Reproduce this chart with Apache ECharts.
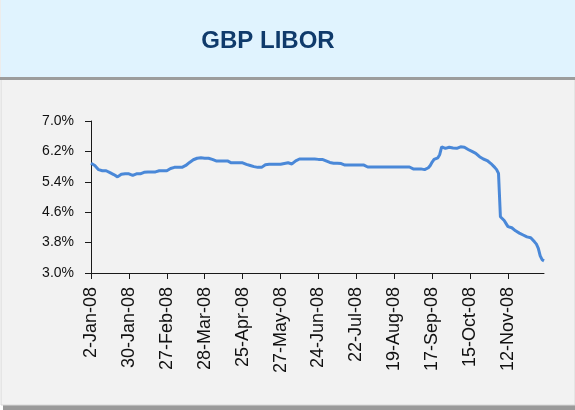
<!DOCTYPE html>
<html>
<head>
<meta charset="utf-8">
<script src="https://cdn.jsdelivr.net/npm/echarts@6/dist/echarts.min.js"></script>
<style>
  html, body { margin: 0; padding: 0; background: #ffffff; }
  #chart { width: 575px; height: 410px; }
</style>
</head>
<body>
<div id="chart"></div>
<script>
// UK business days, 2-Jan-08 .. 9-Dec-08
var startDay = '2008-01-02';
var endDay = '2008-12-09';
var bankHolidays = ['2008-03-21', '2008-03-24', '2008-05-05', '2008-05-26', '2008-08-25'];
var monthNames = ['Jan', 'Feb', 'Mar', 'Apr', 'May', 'Jun', 'Jul', 'Aug', 'Sep', 'Oct', 'Nov', 'Dec'];
var yTicks = [3.0, 3.8, 4.6, 5.4, 6.2, 7.0];

// rate in %, one value per business day
var libor = [
    5.89, 5.86, 5.83, 5.78, 5.72, 5.68, 5.69, 5.69, 5.69, 5.67,
    5.64, 5.61, 5.59, 5.56, 5.53, 5.49, 5.60, 5.61, 5.61, 5.61,
    5.61, 5.59, 5.57, 5.60, 5.61, 5.61, 5.61, 5.61, 5.65, 5.65,
    5.66, 5.66, 5.66, 5.66, 5.66, 5.69, 5.69, 5.69, 5.69, 5.69,
    5.69, 5.74, 5.75, 5.77, 5.78, 5.78, 5.78, 5.78, 5.78, 5.78,
    5.83, 5.86, 5.91, 5.96, 5.98, 6.00, 6.02, 6.02, 6.03, 6.03,
    6.02, 6.02, 6.02, 6.02, 5.99, 5.97, 5.95, 5.95, 5.95, 5.95,
    5.95, 5.95, 5.95, 5.95, 5.90, 5.90, 5.90, 5.90, 5.90, 5.90,
    5.90, 5.88, 5.86, 5.85, 5.83, 5.82, 5.80, 5.78, 5.78, 5.78,
    5.78, 5.78, 5.85, 5.86, 5.86, 5.86, 5.86, 5.86, 5.86, 5.86,
    5.86, 5.86, 5.88, 5.90, 5.90, 5.89, 5.87, 5.90, 5.95, 5.98,
    6.00, 6.00, 6.00, 6.00, 6.00, 6.00, 6.00, 6.00, 6.00, 5.99,
    5.99, 5.99, 5.99, 5.97, 5.95, 5.93, 5.91, 5.89, 5.89, 5.89,
    5.89, 5.89, 5.88, 5.86, 5.84, 5.84, 5.84, 5.84, 5.84, 5.84,
    5.84, 5.84, 5.84, 5.84, 5.84, 5.84, 5.79, 5.79, 5.79, 5.79,
    5.79, 5.79, 5.79, 5.79, 5.79, 5.79, 5.79, 5.79, 5.79, 5.79,
    5.79, 5.79, 5.79, 5.79, 5.79, 5.79, 5.79, 5.79, 5.79, 5.79,
    5.74, 5.74, 5.74, 5.74, 5.74, 5.74, 5.72, 5.71, 5.77, 5.83,
    5.92, 5.99, 6.02, 6.03, 6.12, 6.32, 6.28, 6.28, 6.29, 6.31,
    6.32, 6.29, 6.28, 6.28, 6.31, 6.32, 6.32, 6.31, 6.28, 6.25,
    6.22, 6.20, 6.18, 6.15, 6.11, 6.06, 6.02, 6.00, 5.98, 5.96,
    5.92, 5.88, 5.83, 5.78, 5.72, 5.62, 4.48, 4.44, 4.38, 4.30,
    4.22, 4.21, 4.19, 4.15, 4.11, 4.08, 4.05, 4.04, 4.00, 3.96,
    3.95, 3.94, 3.93, 3.88, 3.82, 3.76, 3.65, 3.45, 3.35, 3.32
];

function pad(n) { return n < 10 ? '0' + n : '' + n; }

var days = [];
var d = new Date(startDay + 'T00:00:00Z');
var last = new Date(endDay + 'T00:00:00Z');
while (d <= last) {
    var key = d.getUTCFullYear() + '-' + pad(d.getUTCMonth() + 1) + '-' + pad(d.getUTCDate());
    var wd = d.getUTCDay();
    if (wd !== 0 && wd !== 6 && bankHolidays.indexOf(key) < 0) {
        days.push(d.getUTCDate() + '-' + monthNames[d.getUTCMonth()] + '-' + String(d.getUTCFullYear()).slice(2));
    }
    d = new Date(d.getTime() + 86400000);
}

var chart = echarts.init(document.getElementById('chart'));

var option = {
    animation: false,
    backgroundColor: '#ffffff',
    textStyle: { fontFamily: 'Liberation Sans, Arial, sans-serif' },
    graphic: [
        // card body
        { type: 'rect', z: -10, shape: { x: 3, y: 6, width: 572, height: 404 }, style: { fill: '#9a9a9a' } },
        { type: 'rect', z: -9, shape: { x: 1, y: 0, width: 574, height: 405 }, style: { fill: '#f2f2f2', stroke: '#d8d8d8', lineWidth: 1 } },
        // title band + its shadow
        { type: 'rect', z: -8, shape: { x: 0, y: 77, width: 575, height: 3 }, style: { fill: '#9c9c9c' } },
        { type: 'rect', z: -7, shape: { x: 1, y: 0, width: 574, height: 77 }, style: { fill: '#e0f3fe' } }
    ],
    title: {
        text: 'GBP LIBOR',
        left: 263,
        top: 24,
        textAlign: 'center',
        textStyle: {
            color: '#0f3a6b',
            fontSize: 24,
            fontWeight: 'bold',
            fontFamily: 'Liberation Sans, Arial, sans-serif'
        }
    },
    grid: {
        left: 91,
        right: 31,
        top: 121,
        bottom: 137,
        containLabel: false
    },
    xAxis: {
        type: 'category',
        data: days,
        boundaryGap: false,
        axisLine: { lineStyle: { color: '#1a1a1a', width: 1 } },
        axisTick: { show: true, interval: 19, length: 6, lineStyle: { color: '#1a1a1a' } },
        axisLabel: {
            interval: 19,
            rotate: 90,
            margin: 14,
            color: '#111111',
            fontSize: 18
        },
        splitLine: { show: false }
    },
    yAxis: {
        type: 'value',
        min: yTicks[0],
        max: yTicks[yTicks.length - 1],
        interval: 0.8,
        axisLine: { show: true, lineStyle: { color: '#1a1a1a', width: 1 } },
        axisTick: { show: true, length: 6, lineStyle: { color: '#1a1a1a' } },
        axisLabel: {
            margin: 17,
            color: '#111111',
            fontSize: 14,
            formatter: function(v) { return v.toFixed(1) + '%'; }
        },
        splitLine: { show: false }
    },
    series: [{
        name: 'GBP LIBOR',
        type: 'line',
        data: libor,
        showSymbol: false,
        symbol: 'none',
        lineStyle: { color: '#4a88d8', width: 3 },
        itemStyle: { color: '#4a88d8' }
    }]
};

chart.setOption(option);
</script>
</body>
</html>
